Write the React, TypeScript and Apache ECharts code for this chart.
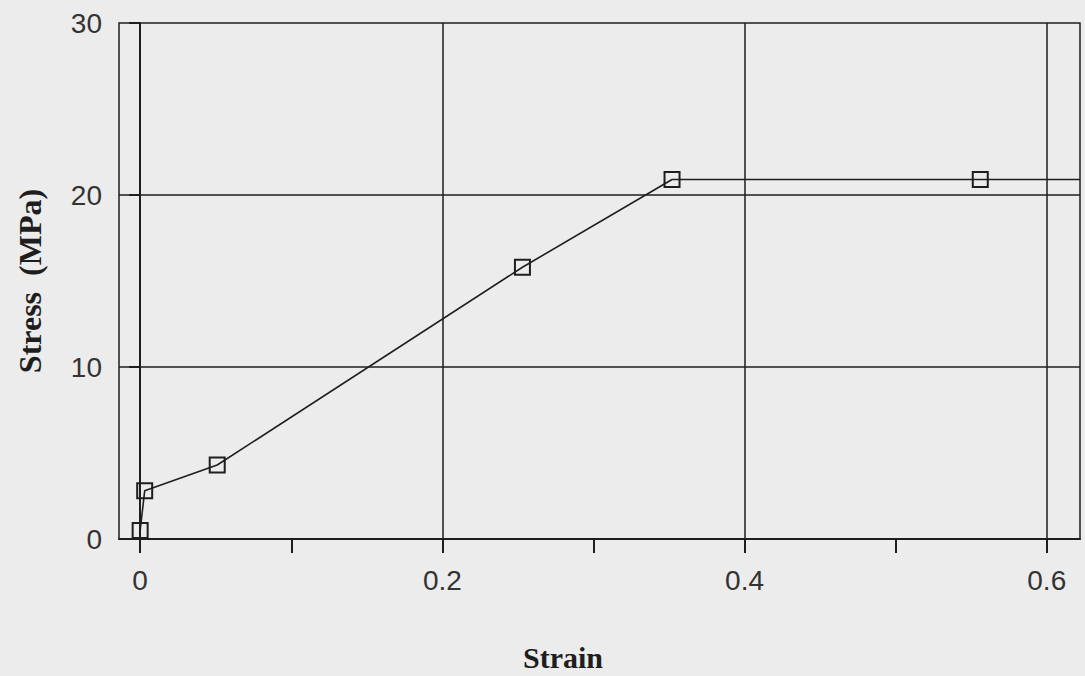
import React, { useEffect, useRef } from "react";
import * as echarts from "echarts";

const strain = [0, 0.003, 0.051, 0.253, 0.352, 0.556, 0.622];
const stress = [0.5, 2.8, 4.3, 15.8, 20.9, 20.9, 20.9];
const xTicks = [0, 0.1, 0.2, 0.3, 0.4, 0.5, 0.6];
const xLabels = [0, 0.2, 0.4, 0.6];
const xGrid = [0, 0.2, 0.4, 0.6];
const yGrid = [10, 20];

const INK = "#1e1e1e";

export default function App() {
  const ref = useRef<HTMLDivElement>(null);
  useEffect(() => {
    if (!ref.current) return;
    const chart = echarts.init(ref.current, null, { renderer: "svg" });
    const data = strain.map((x, i) =>
      i === strain.length - 1
        ? { value: [x, stress[i]], symbol: "none" }
        : { value: [x, stress[i]] }
    );
    chart.setOption({
      animation: false,
      backgroundColor: "#ececec",
      grid: {
        left: 119,
        right: 5,
        top: 23,
        bottom: 137,
        show: true,
        borderColor: INK,
        borderWidth: 1.5,
        containLabel: false,
      },
      graphic: [
        {
          type: "text",
          x: 563,
          y: 657,
          style: {
            text: "Strain",
            fill: INK,
            font: "bold 30px 'Liberation Serif'",
            textAlign: "center",
            textVerticalAlign: "middle",
          },
        },
      ],
      xAxis: {
        type: "value",
        min: -0.014,
        max: 0.622,
        axisLine: { show: true, onZero: false, lineStyle: { color: INK, width: 2 } },
        axisTick: {
          show: true,
          inside: false,
          length: 14,
          customValues: xTicks,
          lineStyle: { color: INK, width: 2 },
        },
        axisLabel: {
          customValues: xLabels,
          margin: 27,
          fontSize: 28,
          fontFamily: "Liberation Sans",
          color: "#333",
          formatter: (v: number) => String(Math.round(v * 10) / 10),
        },
        splitLine: { show: false },
      },
      yAxis: {
        type: "value",
        min: 0,
        max: 30,
        interval: 10,
        name: "Stress  (MPa)",
        nameLocation: "middle",
        nameGap: 73,
        nameTextStyle: {
          fontFamily: "Liberation Serif",
          fontWeight: "bold",
          fontSize: 32,
          color: INK,
        },
        axisLine: { show: true, lineStyle: { color: INK, width: 2 } },
        axisTick: { show: true, length: 11, lineStyle: { color: INK, width: 2 } },
        axisLabel: {
          margin: 17,
          fontSize: 28,
          fontFamily: "Liberation Sans",
          color: "#333",
        },
        splitLine: { show: false },
      },
      series: [
        {
          type: "line",
          data,
          symbol: "rect",
          symbolSize: 15,
          showAllSymbol: true,
          lineStyle: { color: INK, width: 1.6 },
          itemStyle: { color: "rgba(0,0,0,0)", borderColor: INK, borderWidth: 2 },
          z: 5,
          markLine: {
            silent: true,
            symbol: ["none", "none"],
            label: { show: false },
            lineStyle: { type: "solid", color: INK, width: 1.5 },
            data: [
              ...xGrid.map((v) => ({ xAxis: v })),
              ...yGrid.map((v) => ({ yAxis: v })),
            ],
          },
        },
      ],
    });
    return () => chart.dispose();
  }, []);
  return (
    <div
      ref={ref}
      style={{ position: "fixed", left: 0, top: 0, width: 1085, height: 676 }}
    />
  );
}
